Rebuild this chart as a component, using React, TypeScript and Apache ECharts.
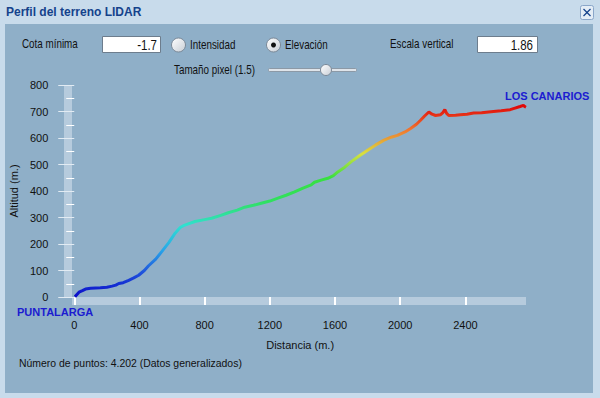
import React, { useEffect, useRef } from "react";
import * as echarts from "echarts";

// Profile: distance (m) and altitude (m)
const distance = [
  4, 29, 50, 69, 100, 130, 160, 200, 232, 255, 273, 300, 334, 365, 395, 430, 456, 500, 538, 580,
  619, 650, 670, 700, 741, 800, 843, 900, 945, 1000, 1046, 1100, 1148, 1200, 1250, 1300, 1352,
  1400, 1454, 1474, 1515, 1556, 1590, 1617, 1660, 1698, 1750, 1800, 1850, 1901, 1945, 1983, 2030,
  2064, 2100, 2125, 2150, 2176, 2195, 2217, 2248, 2262, 2274, 2285, 2298, 2340, 2370, 2410, 2451,
  2500, 2573, 2620, 2675, 2700, 2736, 2756, 2765, 2772,
];
const altitude = [
  1, 18, 24, 30, 33, 34, 35, 37, 41, 45, 51, 54, 63, 72, 82, 100, 118, 143, 172, 205,
  241, 262, 269, 276, 285, 292, 297, 308, 318, 328, 339, 346, 354, 362, 373, 384, 397,
  410, 423, 433, 441, 448, 458, 472, 490, 510, 533, 554, 574, 592, 603, 610, 623,
  636, 652, 667, 683, 698, 690, 685, 688, 696, 707, 693, 685, 686, 688, 690, 694,
  695, 700, 703, 707, 712, 719, 723, 718, 716,
];
const xTickValues = [0, 400, 800, 1200, 1600, 2000, 2400];
const altitudeColors = [
  "#0a0ac8", "#1e50dc", "#28a8e8", "#30e0d0", "#30e060", "#38e040", "#d8e040", "#f07830", "#e00808",
];

const FONT = "'Liberation Sans', Arial, sans-serif";

function txt(
  text: string,
  x: number,
  y: number,
  size = 12,
  fill = "#111",
  weight = "normal",
  align = "left",
  sx = 1
) {
  return {
    type: "text",
    z: 10,
    x,
    y,
    scaleX: sx,
    style: {
      text,
      x: 0,
      y: 0,
      fill,
      font: `${weight} ${size}px ${FONT}`,
      align,
      verticalAlign: "middle",
    },
  };
}

export default function App() {
  const ref = useRef<HTMLDivElement>(null);
  useEffect(() => {
    const chart = echarts.init(ref.current!, null, { renderer: "svg" });
    const data = distance.map((d, i) => [d, altitude[i]]);
    const radialFill = new echarts.graphic.LinearGradient(0, 0, 1, 1, [
      { offset: 0, color: "#ffffff" },
      { offset: 1, color: "#c8ced6" },
    ]);
    const N = 0.82;
    chart.setOption({
      animation: false,
      backgroundColor: "#c8dbeb",
      grid: { left: 72, right: 74, top: 85, bottom: 101 },
      xAxis: {
        type: "value",
        min: 0,
        max: 2772,
        interval: 400,
        name: "Distancia (m.)",
        nameLocation: "middle",
        nameGap: 42,
        nameTextStyle: { color: "#111", fontSize: 11, fontFamily: FONT },
        axisLine: { show: false },
        axisTick: { show: true, length: 8, customValues: xTickValues, lineStyle: { color: "#ffffff", width: 2 } },
        axisLabel: {
          customValues: xTickValues,
          margin: 22,
          color: "#111",
          fontSize: 11,
          fontFamily: FONT,
          formatter: (v: number) => String(v),
        },
        splitLine: { show: false },
        z: 3,
      },
      yAxis: {
        type: "value",
        min: 0,
        max: 800,
        interval: 100,
        name: "Altitud (m.)",
        nameLocation: "middle",
        nameGap: 51,
        nameTextStyle: { color: "#111", fontSize: 11, fontFamily: FONT },
        axisLine: { show: false },
        axisTick: { show: true, length: 16, lineStyle: { color: "#e2ebf3", width: 1 } },
        minorTick: { show: true, splitNumber: 2, length: 8, lineStyle: { color: "#ffffff", width: 1 } },
        axisLabel: { margin: 26, color: "#111", fontSize: 11, fontFamily: FONT, formatter: (v: number) => String(v) },
        splitLine: { show: false },
        z: 3,
      },
      visualMap: {
        show: false,
        type: "continuous",
        dimension: 1,
        min: 0,
        max: 720,
        inRange: { color: altitudeColors },
      },
      series: [
        {
          type: "line",
          data,
          symbol: "none",
          showSymbol: false,
          lineStyle: { width: 3 },
          z: 5,
        },
      ],
      graphic: [
        // window panel
        { type: "rect", z: 0, shape: { x: 5, y: 24, width: 588, height: 369 }, style: { fill: "#8fafc8" } },
        { type: "rect", z: 0, shape: { x: 0, y: 0, width: 600, height: 24 }, style: { fill: "#c8dbeb" } },
        txt("Perfil del terreno LIDAR", 6, 12, 12, "#15428b", "bold"),
        // close button
        {
          type: "rect",
          z: 10,
          shape: { x: 580.5, y: 5.5, width: 13, height: 14, r: 2 },
          style: { fill: "#e4edf6", stroke: "#8aa6c9", lineWidth: 1 },
        },
        { type: "line", z: 11, shape: { x1: 583.5, y1: 9, x2: 590.5, y2: 16 }, style: { stroke: "#15428b", lineWidth: 1.3 } },
        { type: "line", z: 11, shape: { x1: 590.5, y1: 9, x2: 583.5, y2: 16 }, style: { stroke: "#15428b", lineWidth: 1.3 } },
        // controls
        txt("Cota mínima", 22, 44, 12, "#111", "normal", "left", N),
        { type: "rect", z: 10, shape: { x: 102.5, y: 36.5, width: 58, height: 16 }, style: { fill: "#ffffff", stroke: "#6d7d8d" } },
        txt("-1.7", 157, 45, 14, "#111", "normal", "right", N),
        { type: "circle", z: 10, shape: { cx: 178.5, cy: 45, r: 7 }, style: { fill: radialFill, stroke: "#7a8897" } },
        txt("Intensidad", 190, 45, 12, "#111", "normal", "left", N),
        { type: "circle", z: 10, shape: { cx: 273.5, cy: 45, r: 7 }, style: { fill: radialFill, stroke: "#7a8897" } },
        { type: "circle", z: 11, shape: { cx: 273.5, cy: 45, r: 2.5 }, style: { fill: "#111" } },
        txt("Elevación", 285, 45, 12, "#111", "normal", "left", N),
        txt("Escala vertical", 390, 44, 12, "#111", "normal", "left", N),
        { type: "rect", z: 10, shape: { x: 477.5, y: 36.5, width: 60, height: 16 }, style: { fill: "#ffffff", stroke: "#6d7d8d" } },
        txt("1.86", 533, 45, 14, "#111", "normal", "right", N),
        txt("Tamaño pixel (1.5)", 174, 70, 12, "#111", "normal", "left", N),
        { type: "rect", z: 10, shape: { x: 268.5, y: 68.5, width: 88, height: 3, r: 1 }, style: { fill: "#dfe4ea", stroke: "#8c99a6" } },
        { type: "circle", z: 11, shape: { cx: 326, cy: 70, r: 5.5 }, style: { fill: radialFill, stroke: "#7a8897" } },
        // axis bands
        { type: "rect", z: 1, shape: { x: 64, y: 85, width: 8, height: 212 }, style: { fill: "#b6cbdd" } },
        { type: "rect", z: 1, shape: { x: 72, y: 297, width: 454, height: 8 }, style: { fill: "#b6cbdd" } },
        // place names
        txt("PUNTALARGA", 17, 312, 11, "#1c1cd0", "bold"),
        txt("LOS CANARIOS", 505, 96, 11, "#1c1cd0", "bold"),
        // footer
        txt("Número de puntos: 4.202 (Datos generalizados)", 19, 363, 11, "#111", "normal", "left", 0.95),
      ],
    });
    return () => chart.dispose();
  }, []);
  return <div ref={ref} style={{ position: "fixed", left: 0, top: 0, width: 600, height: 398 }} />;
}
